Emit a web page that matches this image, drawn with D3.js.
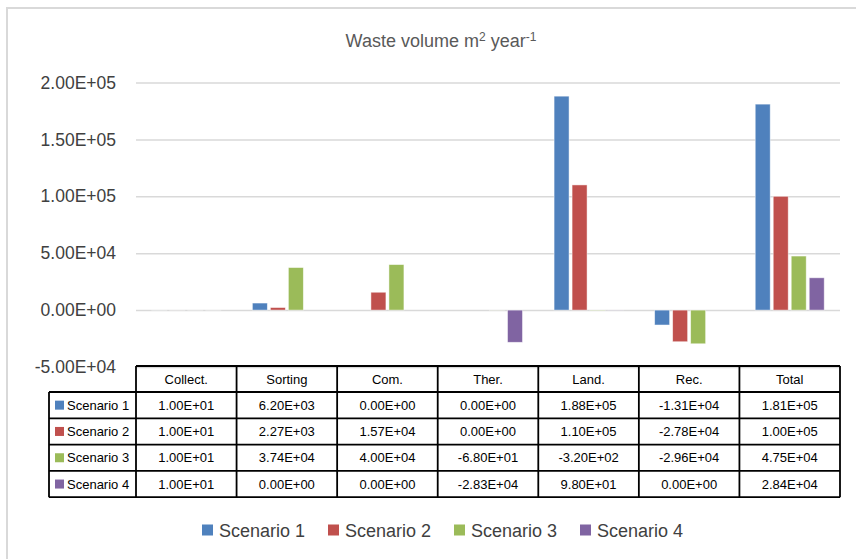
<!DOCTYPE html>
<html>
<head>
<meta charset="utf-8">
<script src="https://cdn.jsdelivr.net/npm/d3@7"></script>
<style>
  body { margin: 0; background: #fff; }
  svg { display: block; font-family: "Liberation Sans", Arial, sans-serif; }
</style>
</head>
<body>
<div id="chart"></div>
<script>
const categories = ["Collect.", "Sorting", "Com.", "Ther.", "Land.", "Rec.", "Total"];
const seriesNames = ["Scenario 1", "Scenario 2", "Scenario 3", "Scenario 4"];
const scenario1 = [10, 6200, 0, 0, 188000, -13100, 181000];
const scenario2 = [10, 2270, 15700, 0, 110000, -27800, 100000];
const scenario3 = [10, 37400, 40000, -68, -320, -29600, 47500];
const scenario4 = [10, 0, 0, -28300, 98, 0, 28400];
const yTicks = [-50000, 0, 50000, 100000, 150000, 200000];
const colors = ["#4F81BD", "#C0504D", "#9BBB59", "#8064A2"];

const allSeries = [scenario1, scenario2, scenario3, scenario4];

const width = 856, height = 559;
const margin = { top: 82, right: 16, bottom: 192, left: 136 };

// excel style 1.00E+01
const fmt = v => {
    const [m, e] = v.toExponential(2).split("e");
    const n = +e;
    return m + "E" + (n < 0 ? "-" : "+") + String(Math.abs(n)).padStart(2, "0");
};

const svg = d3.select("#chart").append("svg")
    .attr("width", width)
    .attr("height", height);

// chart area border (right/bottom run off the picture)
svg.append("rect")
    .attr("x", 7).attr("y", 8)
    .attr("width", 870).attr("height", 570)
    .attr("fill", "none")
    .attr("stroke", "#D9D9D9")
    .attr("stroke-width", 2);

const x0 = d3.scaleBand()
    .domain(categories)
    .range([margin.left, width - margin.right])
    .padding(0);

const x1 = d3.scaleBand()
    .domain(seriesNames)
    .range([0, x0.bandwidth()])
    .paddingInner(0.167)
    .paddingOuter(0.877);

const y = d3.scaleLinear()
    .domain([-50000, 200000])
    .range([367, 82.5]);

// title
const title = svg.append("text")
    .attr("x", 441).attr("y", 47)
    .attr("text-anchor", "middle")
    .attr("fill", "#595959")
    .attr("font-size", 18);
title.append("tspan").text("Waste volume m");
title.append("tspan").attr("dy", -6).attr("font-size", 12).text("2");
title.append("tspan").attr("dy", 6).text(" year");
title.append("tspan").attr("dy", -6).attr("font-size", 12).text("-1");

// gridlines + y labels
const yAxis = g => g
    .attr("transform", `translate(${margin.left},0)`)
    .call(d3.axisLeft(y).tickValues(yTicks).tickFormat(fmt)
        .tickSize(-(width - margin.right - margin.left)).tickPadding(20))
    .call(g => g.select(".domain").remove())
    .call(g => g.selectAll(".tick line").attr("stroke", "#D9D9D9").attr("stroke-width", 1.5))
    .call(g => g.selectAll(".tick text").attr("fill", "#404040").attr("font-size", 17.5)
        .attr("font-family", "Liberation Sans, Arial, sans-serif"));

svg.append("g").call(yAxis);

// bars
svg.append("g")
    .selectAll("g")
    .data(categories)
    .join("g")
    .attr("transform", d => `translate(${x0(d)},0)`)
    .selectAll("rect")
    .data((c, i) => seriesNames.map((s, j) => ({ s, j, v: allSeries[j][i] })))
    .join("rect")
    .attr("x", d => x1(d.s))
    .attr("width", x1.bandwidth())
    .attr("y", d => y(Math.max(0, d.v)))
    .attr("height", d => Math.abs(y(d.v) - y(0)))
    .attr("fill", d => colors[d.j])
    .attr("stroke", "#ffffff")
    .attr("stroke-opacity", 0.6)
    .attr("stroke-width", 0.8);

// data table
const tableTop = 366, headH = 26, rowH = 26.3, legendLeft = 49;
const rowY = d3.scaleBand()
    .domain(seriesNames)
    .range([tableTop + headH, tableTop + headH + rowH * seriesNames.length]);
const tableBottom = rowY.range()[1];
const table = svg.append("g").attr("font-size", 13).attr("fill", "#000");

// header cells
table.selectAll("text.head")
    .data(categories)
    .join("text")
    .attr("class", "head")
    .attr("x", d => x0(d) + x0.bandwidth() / 2)
    .attr("y", tableTop + headH / 2 + 4.5)
    .attr("text-anchor", "middle")
    .text(d => d);

// value cells
seriesNames.forEach((s, j) => {
    table.selectAll(null)
        .data(allSeries[j])
        .join("text")
        .attr("x", (d, i) => x0(categories[i]) + x0.bandwidth() / 2)
        .attr("y", rowY(s) + rowY.bandwidth() / 2 + 4.5)
        .attr("text-anchor", "middle")
        .text(d => fmt(d));
});

// legend keys inside table
const keys = table.selectAll("g.key")
    .data(seriesNames)
    .join("g")
    .attr("class", "key")
    .attr("transform", d => `translate(${legendLeft},${rowY(d)})`);
keys.append("rect")
    .attr("x", 6).attr("y", rowY.bandwidth() / 2 - 4.5)
    .attr("width", 9).attr("height", 9)
    .attr("fill", (d, i) => colors[i]);
keys.append("text")
    .attr("x", 18).attr("y", rowY.bandwidth() / 2 + 4.5)
    .text(d => d);

// table lines
const lineColor = "#000", lw = 1.8;
const tl = svg.append("g").attr("stroke", lineColor).attr("stroke-width", lw).attr("fill", "none");
// horizontal lines
tl.append("line").attr("x1", margin.left).attr("x2", width - margin.right)
    .attr("y1", tableTop).attr("y2", tableTop);
[...seriesNames.map(s => rowY(s)), tableBottom].forEach(yy => {
    tl.append("line").attr("x1", legendLeft).attr("x2", width - margin.right)
        .attr("y1", yy).attr("y2", yy);
});
// vertical lines
tl.append("line").attr("x1", legendLeft).attr("x2", legendLeft)
    .attr("y1", tableTop + headH).attr("y2", tableBottom);
[...categories.map(c => x0(c)), width - margin.right].forEach(xx => {
    tl.append("line").attr("x1", xx).attr("x2", xx)
        .attr("y1", tableTop).attr("y2", tableBottom);
});

// bottom legend
const legend = svg.append("g")
    .selectAll("g")
    .data(seriesNames)
    .join("g")
    .attr("transform", (d, i) => `translate(${202 + i * 126},530)`);
legend.append("rect")
    .attr("x", 0).attr("y", -5.5)
    .attr("width", 11).attr("height", 11)
    .attr("fill", (d, i) => colors[i]);
legend.append("text")
    .attr("x", 17).attr("y", 6.5)
    .attr("font-size", 18)
    .attr("fill", "#404040")
    .text(d => d);
</script>
</body>
</html>
